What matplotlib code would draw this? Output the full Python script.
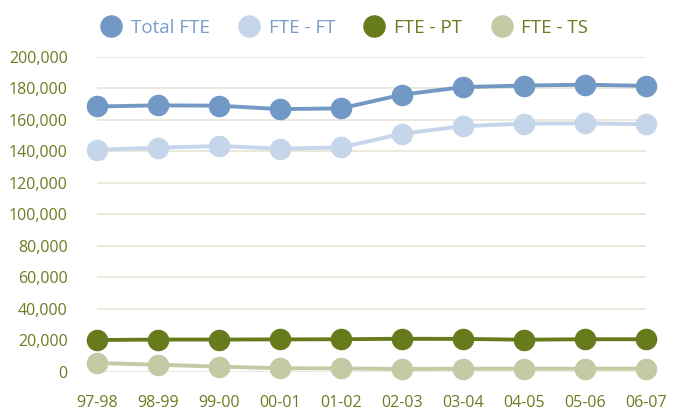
import matplotlib.pyplot as plt
from matplotlib.ticker import FuncFormatter

# data
years = ["97-98", "98-99", "99-00", "00-01", "01-02", "02-03", "03-04", "04-05", "05-06", "06-07"]
total_fte = [168500, 169200, 169000, 166800, 167300, 176000, 180800, 181800, 182300, 181600]
fte_ft = [141000, 142300, 143400, 141700, 142500, 151200, 156000, 157600, 157800, 157200]
fte_pt = [20200, 20500, 20500, 20600, 20700, 21000, 20900, 20400, 20700, 20700]
fte_ts = [5600, 4500, 3300, 2300, 2200, 1800, 2000, 2000, 2000, 2000]

colors = ["#7299c6", "#c6d6ea", "#677a1c", "#c4cba4"]
labels = ["Total FTE", "FTE - FT", "FTE - PT", "FTE - TS"]
text_col = "#6b7c22"

plt.rcParams['font.family'] = ['Open Sans', 'DejaVu Sans']

fig = plt.figure(figsize=(6.83, 4.15), dpi=100)
ax = fig.add_axes([0.142, 0.104, 0.804, 0.759])

x = range(len(years))
for series, c, lab in zip([total_fte, fte_ft, fte_pt, fte_ts], colors, labels):
    ax.plot(x, series, color=c, lw=2.8, marker='o', ms=14.5, label=lab,
            clip_on=False, zorder=3)

ax.set_xlim(0, len(years) - 1)
ax.set_ylim(0, 200000)
ax.set_yticks(range(0, 200001, 20000))
ax.yaxis.set_major_formatter(FuncFormatter(lambda v, p: f"{int(v):,}"))
ax.set_xticks(list(x))
ax.set_xticklabels(years)
ax.grid(axis='y', color='#e6e6d6', lw=1.2, zorder=0)
for s in ax.spines.values():
    s.set_visible(False)
ax.tick_params(length=0, labelsize=11.5, labelcolor=text_col)
ax.tick_params(axis='y', pad=21)
ax.tick_params(axis='x', pad=17)

leg = fig.legend(loc='upper center', bbox_to_anchor=(0.505, 0.995), ncol=4, frameon=False,
                 fontsize=13.5, handlelength=1.0, handletextpad=0.55, columnspacing=1.6,
                 markerscale=1.05,
                 labelcolor=["#7a9cc8", "#7a9cc8", text_col, text_col])
for h in leg.legend_handles:
    h.set_linestyle('none')

fig.savefig("out.png", dpi=100)
